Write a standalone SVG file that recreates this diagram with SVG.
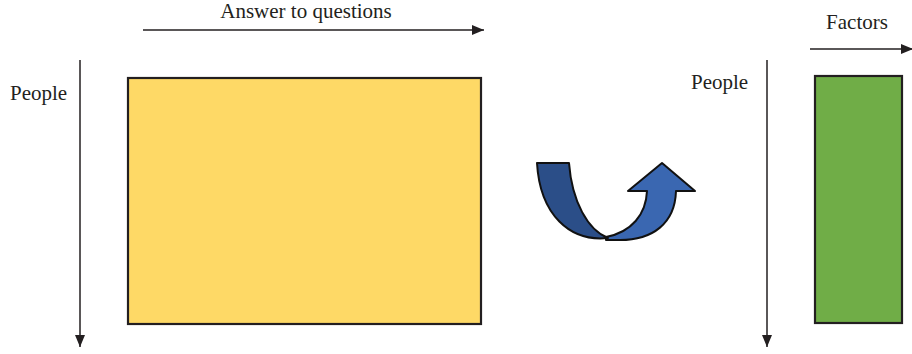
<svg xmlns="http://www.w3.org/2000/svg" width="912" height="354" viewBox="0 0 912 354">
<defs>
<style>
.lbl{font-family:"Liberation Serif","Times New Roman",serif;font-size:21px;fill:#231f20}
.ax{stroke:#231f20;stroke-width:1.5;fill:none}
.box{stroke:#231f20;stroke-width:2.2}
.band{stroke:#111;stroke-width:2;stroke-linejoin:round}
</style>
<marker id="ah" viewBox="0 0 12 10" refX="12" refY="5" markerWidth="12" markerHeight="10" markerUnits="userSpaceOnUse" orient="auto">
<path d="M0,0 L12,5 L0,10 Z" fill="#231f20"/>
</marker>
</defs>
<rect width="912" height="354" fill="#fff"/>
<g id="connectors">
<line class="ax" x1="143" y1="30" x2="484" y2="30" marker-end="url(#ah)"/>
<line class="ax" x1="80" y1="60" x2="80" y2="347" marker-end="url(#ah)"/>
<line class="ax" x1="810" y1="49" x2="913" y2="49" marker-end="url(#ah)"/>
<line class="ax" x1="767" y1="60" x2="767" y2="347" marker-end="url(#ah)"/>
</g>
<g id="label-answers"><text class="lbl" x="306" y="18" text-anchor="middle">Answer to questions</text></g>
<g id="label-people-left"><text class="lbl" x="10" y="100">People</text></g>
<g id="label-factors"><text class="lbl" x="857" y="29" text-anchor="middle">Factors</text></g>
<g id="label-people-right"><text class="lbl" x="691" y="89">People</text></g>
<g id="matrix-answers"><rect class="box" x="128" y="78" width="353" height="246" fill="#fed966"/></g>
<g id="matrix-factors"><rect class="box" x="815" y="76" width="87" height="247" fill="#70ad47"/></g>
<g id="transform-arrow">
<path class="band" fill="#3a67b1" d="M606,237 C632,232 646,214 647,191 L628,191 L662,163 L695,191 L676,191 C675,224 652,240 620,240 L606,240 Z"/>
<path class="band" fill="#2b4e88" d="M537,163 L569,163 C572,202 588,230 608,238 C570,242 540,215 537,163 Z"/>
</g>
</svg>
